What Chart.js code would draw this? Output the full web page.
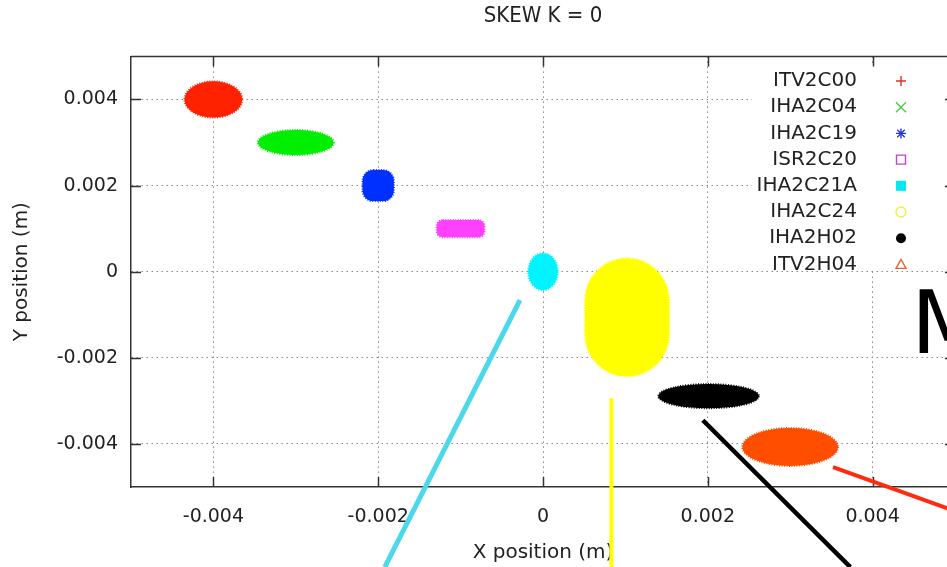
<!DOCTYPE html>
<html>
<head>
<meta charset="utf-8">
<title>SKEW K = 0</title>
<script src="https://cdn.jsdelivr.net/npm/chart.js@4.4.1/dist/chart.umd.min.js"></script>
<style>
html,body{margin:0;padding:0;background:#fff;overflow:hidden;}
#wrap{width:972px;height:567px;}
</style>
</head>
<body>
<div id="wrap"><canvas id="skewChart" width="972" height="567"></canvas></div>
<script>
// beam spot of each magnet (metres): centre and half-size of the cloud
const magnets = ["ITV2C00", "IHA2C04", "IHA2C19", "ISR2C20", "IHA2C21A", "IHA2C24", "IHA2H02", "ITV2H04"];
const centreX = [-0.004, -0.003, -0.002, -0.001, 0.0, 0.00102, 0.00201, 0.0030];
const centreY = [0.004, 0.003, 0.002, 0.001, 0.0, -0.00106, -0.00289, -0.00407];
const spreadX = [0.00035, 0.00046, 0.00019, 0.00029, 0.00018, 0.00051, 0.00061, 0.00058];
const spreadY = [0.00042, 0.00029, 0.00036, 0.00020, 0.00043, 0.00137, 0.00028, 0.00044];

const xTicks = [-0.004, -0.002, 0, 0.002, 0.004];
const xTickLabels = ["-0.004", "-0.002", "0", "0.002", "0.004"];
const yTicks = [-0.004, -0.002, 0, 0.002, 0.004];
const yTickLabels = ["-0.004", "-0.002", "0", "0.002", "0.004"];

// lines drawn over the plot on the slide (start / end, metres)
const guideX1 = [-0.00028, 0.00083, 0.00194, 0.00352];
const guideY1 = [-0.00066, -0.00294, -0.00345, -0.00454];
const guideX2 = [-0.00192, 0.00083, 0.00373, 0.00506];
const guideY2 = [-0.00686, -0.00686, -0.00686, -0.00560];

// styles
const cloudColors = ["#ff2200", "#00ee00", "#0030ff", "#ff40ff", "#00f4ff", "#ffff00", "#000000", "#ff4e00"];
const keyColors = ["#e0302a", "#40d040", "#2a36e0", "#c040d0", "#00e8f0", "#f0f040", "#000000", "#e86030"];
const keyShapes = ["plus", "cross", "star", "openSquare", "square", "openCircle", "circle", "openTriangle"];
const cloudRound = [0, 0, 0.7, 0.7, 0, 1.0, 0, 0]; // 0 = ellipse, else rounded box
const guideColors = ["#4ad8ea", "#ffff00", "#000000", "#ff2a10"];
const guideWidths = [5, 4, 4.5, 4];

function drawKeySymbol(ctx, shape, color, cx, cy) {
  const r = 5;
  ctx.save();
  ctx.strokeStyle = color;
  ctx.fillStyle = color;
  ctx.lineWidth = 1.4;
  ctx.beginPath();
  if (shape == "plus" || shape == "star") {
    ctx.moveTo(cx - r, cy); ctx.lineTo(cx + r, cy);
    ctx.moveTo(cx, cy - r); ctx.lineTo(cx, cy + r);
  }
  if (shape == "cross" || shape == "star") {
    const d = shape == "star" ? r * 0.75 : r;
    ctx.moveTo(cx - d, cy - d); ctx.lineTo(cx + d, cy + d);
    ctx.moveTo(cx - d, cy + d); ctx.lineTo(cx + d, cy - d);
  }
  if (shape == "openSquare") ctx.rect(cx - r + 0.5, cy - r + 0.5, 2 * r - 1, 2 * r - 1);
  if (shape == "square") ctx.fillRect(cx - r, cy - r, 2 * r, 2 * r);
  if (shape == "openCircle" || shape == "circle") ctx.arc(cx, cy, r, 0, Math.PI * 2);
  if (shape == "openTriangle") {
    ctx.moveTo(cx, cy - r); ctx.lineTo(cx + r, cy + r * 0.8); ctx.lineTo(cx - r, cy + r * 0.8); ctx.closePath();
  }
  if (shape == "circle") ctx.fill(); else ctx.stroke();
  ctx.restore();
}

const skewPlugin = {
  id: "skew",
  beforeDatasetsDraw(chart) {
    const {ctx, chartArea: a} = chart;
    // opaque key box
    ctx.save();
    ctx.fillStyle = "#fff";
    ctx.fillRect(752, a.top + 8, a.right - 752 - 11, 205);
    ctx.restore();
  },
  afterDatasetsDraw(chart) {
    const {ctx, chartArea: a, scales: {x, y}} = chart;
    ctx.save();
    chart.data.datasets.forEach((ds, i) => {
      const p = ds.data[0];
      const cx = x.getPixelForValue(p.x), cy = y.getPixelForValue(p.y);
      const rx = x.getPixelForValue(p.x + p.sx) - cx;
      const ry = cy - y.getPixelForValue(p.y + p.sy);
      ctx.fillStyle = ds.backgroundColor;
      ctx.strokeStyle = ds.backgroundColor;
      ctx.beginPath();
      if (cloudRound[i] > 0) ctx.roundRect(cx - rx, cy - ry, 2 * rx, 2 * ry, Math.min(rx, ry) * cloudRound[i]);
      else ctx.ellipse(cx, cy, rx, ry, 0, 0, Math.PI * 2);
      ctx.fill();
      ctx.lineWidth = 2;
      ctx.setLineDash([1, 1.5]);
      ctx.stroke();
      ctx.setLineDash([]);
    });
    ctx.restore();

    // frame: top and right border with inward ticks everywhere
    ctx.save();
    ctx.strokeStyle = "#333";
    ctx.lineWidth = 1.5;
    ctx.beginPath();
    ctx.moveTo(a.left, a.top); ctx.lineTo(a.right, a.top); ctx.lineTo(a.right, a.bottom);
    xTicks.forEach(v => {
      const px = Math.round(x.getPixelForValue(v)) + 0.5;
      ctx.moveTo(px, a.bottom); ctx.lineTo(px, a.bottom - 10);
      ctx.moveTo(px, a.top); ctx.lineTo(px, a.top + 10);
    });
    yTicks.forEach(v => {
      const py = Math.round(y.getPixelForValue(v)) + 0.5;
      ctx.moveTo(a.left, py); ctx.lineTo(a.left + 10, py);
      ctx.moveTo(a.right, py); ctx.lineTo(a.right - 10, py);
    });
    ctx.stroke();
    ctx.restore();

    // key
    ctx.save();
    ctx.font = "20px 'DejaVu Sans'";
    ctx.fillStyle = "#222";
    ctx.textAlign = "right";
    ctx.textBaseline = "middle";
    chart.data.datasets.forEach((ds, i) => {
      const ky = 81 + i * 26.2;
      ctx.fillText(ds.label, 857, ky);
      drawKeySymbol(ctx, ds.pointStyle, ds.borderColor, 901, ky);
    });
    ctx.restore();
  },
  afterDraw(chart) {
    const {ctx, scales: {x, y}} = chart;
    ctx.save();
    ctx.lineCap = "butt";
    guideX1.forEach((v, i) => {
      ctx.strokeStyle = guideColors[i];
      ctx.lineWidth = guideWidths[i];
      ctx.beginPath();
      ctx.moveTo(x.getPixelForValue(v), y.getPixelForValue(guideY1[i]));
      ctx.lineTo(x.getPixelForValue(guideX2[i]), y.getPixelForValue(guideY2[i]));
      ctx.stroke();
    });
    ctx.fillStyle = "#000";
    ctx.font = "88px 'DejaVu Sans'";
    ctx.textBaseline = "alphabetic";
    ctx.fillText("M", 911, 353);
    ctx.restore();
  }
};

new Chart("skewChart", {
  type: "scatter",
  data: {
    datasets: magnets.map((name, i) => ({
      label: name,
      data: [{x: centreX[i], y: centreY[i], sx: spreadX[i], sy: spreadY[i]}],
      backgroundColor: cloudColors[i],
      borderColor: keyColors[i],
      pointStyle: keyShapes[i],
      pointRadius: 0,
      pointHoverRadius: 0
    }))
  },
  options: {
    responsive: false,
    animation: false,
    layout: {padding: {left: 0, top: 0, right: 17, bottom: 0}},
    plugins: {
      legend: {display: false},
      tooltip: {enabled: false},
      title: {
        display: true,
        fullSize: false,
        text: "SKEW K = 0",
        color: "#222",
        font: {family: "'DejaVu Sans Condensed', 'DejaVu Sans'", size: 22, weight: "normal"},
        padding: {top: 3, bottom: 27}
      }
    },
    scales: {
      x: {
        type: "linear",
        min: -0.005,
        max: 0.005,
        afterFit: s => { s.height = 80; },
        afterBuildTicks: s => { s.ticks = xTicks.map(v => ({value: v})); },
        ticks: {
          callback: (v, i) => xTickLabels[i],
          color: "#222",
          padding: 19,
          maxRotation: 0,
          font: {family: "'DejaVu Sans'", size: 19}
        },
        grid: {color: "#888", lineWidth: 1, drawTicks: false},
        border: {color: "#333", width: 1.5, dash: [1.5, 3.5]},
        title: {
          display: true,
          text: "X position (m)",
          color: "#222",
          font: {family: "'DejaVu Sans'", size: 20},
          padding: {top: 0, bottom: 2}
        }
      },
      y: {
        type: "linear",
        min: -0.005,
        max: 0.005,
        afterFit: s => { s.width = 131; },
        afterBuildTicks: s => { s.ticks = yTicks.map(v => ({value: v})); },
        ticks: {
          callback: (v, i) => yTickLabels[i],
          color: "#222",
          padding: 13,
          font: {family: "'DejaVu Sans'", size: 19}
        },
        grid: {color: "#888", lineWidth: 1, drawTicks: false},
        border: {color: "#333", width: 1.5, dash: [1.5, 3.5]},
        title: {
          display: true,
          text: "Y position (m)",
          color: "#222",
          font: {family: "'DejaVu Sans'", size: 20},
          padding: {top: 10, bottom: 0}
        }
      }
    }
  },
  plugins: [skewPlugin]
});
</script>
</body>
</html>
